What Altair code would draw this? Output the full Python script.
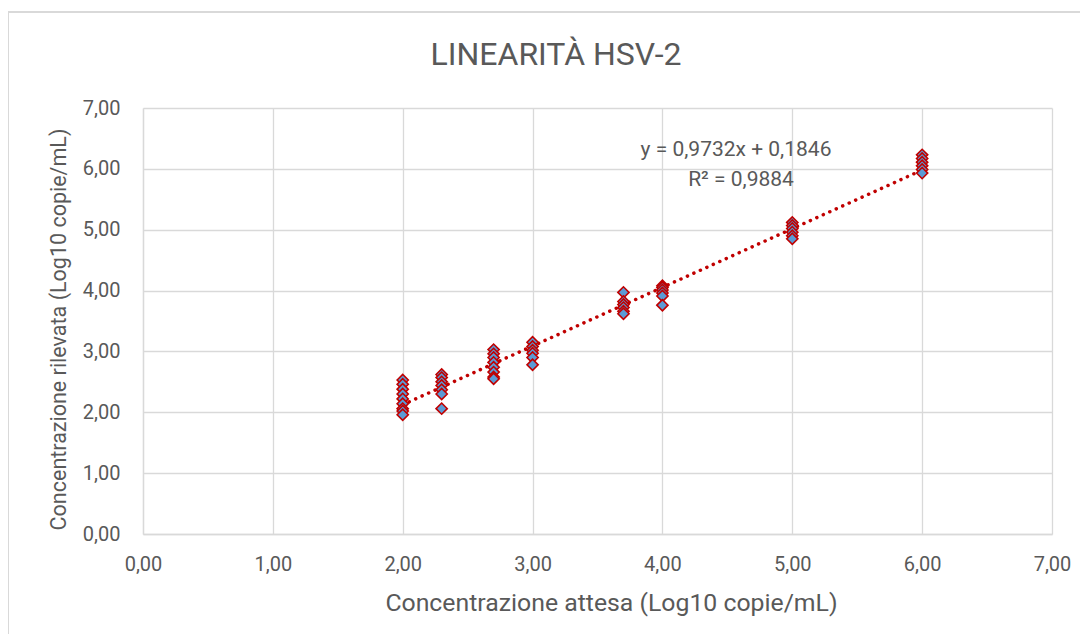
import altair as alt
import pandas as pd

# ---- data ----
expected = [2.0]*9 + [2.3]*7 + [2.7]*8 + [3.0]*6 + [3.7]*6 + [4.0]*6 + [5.0]*6 + [6.0]*6
observed = [2.53, 2.46, 2.38, 2.30, 2.22, 2.14, 2.06, 2.02, 1.96,
            2.62, 2.57, 2.50, 2.44, 2.37, 2.30, 2.06,
            3.03, 2.96, 2.90, 2.82, 2.74, 2.66, 2.58, 2.55,
            3.15, 3.08, 3.02, 2.97, 2.90, 2.78,
            3.97, 3.82, 3.77, 3.72, 3.66, 3.62,
            4.08, 4.05, 4.01, 3.96, 3.91, 3.76,
            5.12, 5.07, 5.02, 4.96, 4.90, 4.85,
            6.23, 6.17, 6.11, 6.05, 5.99, 5.93]
axis_ticks = [0, 1, 2, 3, 4, 5, 6, 7]
equation_text = "y = 0,9732x + 0,1846"
r2_text = "R² = 0,9884"
title_text = "LINEARITÀ HSV-2"

df = pd.DataFrame({"x": expected, "y": observed})

FONT = "Roboto"
GREY = "#595959"
GRID = "#D9D9D9"
label_expr = "replace(format(datum.value, '.2f'), '.', ',')"

xscale = alt.Scale(domain=[0, 7], nice=False, zero=False)
yscale = alt.Scale(domain=[0, 7], nice=False, zero=False)
xaxis = alt.Axis(values=axis_ticks, labelExpr=label_expr, labelFlush=False,
                 title="Concentrazione attesa (Log10 copie/mL)")
yaxis = alt.Axis(values=axis_ticks, labelExpr=label_expr, labelFlush=False,
                 title="Concentrazione rilevata (Log10 copie/mL)")

base = alt.Chart(df)

points = base.mark_point(shape="diamond", filled=True, size=125,
                         fill="#5B9BD5", stroke="#C00000", strokeWidth=1.6,
                         opacity=1).encode(
    x=alt.X("x:Q", scale=xscale, axis=xaxis),
    y=alt.Y("y:Q", scale=yscale, axis=yaxis),
)

trend = base.transform_regression("x", "y", extent=[2, 6]).mark_line(
    color="#C00000", strokeWidth=3.5, strokeDash=[0.1, 7], strokeCap="round"
).encode(x=alt.X("x:Q", scale=xscale, axis=xaxis),
         y=alt.Y("y:Q", scale=yscale, axis=yaxis))

txt = pd.DataFrame({"a": [1]})


def label(text, px, py, size, **kw):
    return alt.Chart(txt).mark_text(font=FONT, fontSize=size, color=GREY,
                                    align="center", baseline="middle",
                                    text=text, **kw).encode(
        x=alt.value(px), y=alt.value(py))


eq1 = label(equation_text, 593, 42, 21)
eq2 = label(r2_text, 598, 72, 21)
ttl = label(title_text, 413, -53, 32)

border = alt.Chart(txt).mark_rect(filled=False, stroke=GRID, strokeWidth=2).encode(
    x=alt.value(-135), x2=alt.value(1000), y=alt.value(-96), y2=alt.value(700)
)

chart = alt.layer(border, trend, points, eq1, eq2, ttl).properties(
    width=909, height=426,
    autosize=alt.AutoSizeParams(type="none"),
    padding={"left": 135, "top": 100, "right": 28, "bottom": 100},
).configure_view(stroke=None).configure_axis(
    labelFont=FONT, labelFontSize=20, labelColor=GREY,
    titleFont=FONT, titleColor=GREY, titleFontWeight="normal",
    gridColor=GRID, gridWidth=1.3, domainColor=GRID, domainWidth=1.3,
    ticks=False,
).configure_axisX(titlePadding=16, labelPadding=20, titleFontSize=24.8,
                  titleX=468).configure_axisY(
    titlePadding=12, labelPadding=23, titleFontSize=21.5, titleY=221)

chart.save("out.html", embed_options={"renderer": "svg", "actions": False})
